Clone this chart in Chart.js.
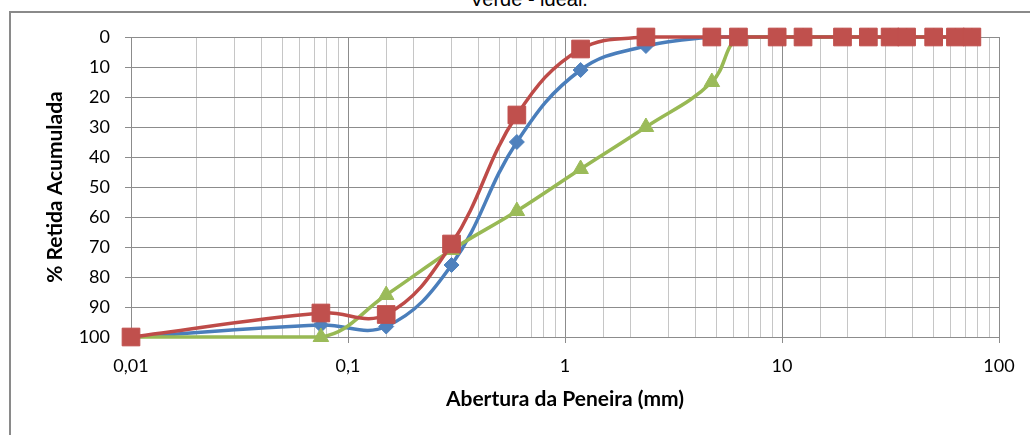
<!DOCTYPE html>
<html>
<head>
<meta charset="utf-8">
<script src="https://cdn.jsdelivr.net/npm/chart.js@4/dist/chart.umd.min.js"></script>
<style>
  html, body { margin: 0; padding: 0; background: #fff; overflow: hidden; }
  #wrap { position: relative; width: 1030px; height: 435px; overflow: hidden; }
  #frame { position: absolute; left: 9px; top: 11px; width: 1100px; height: 500px; border: 2px solid #8a8a8a; box-sizing: border-box; }
  #title { position: absolute; left: 529px; top: -12px; transform: translateX(-50%); font-family: "Liberation Sans", Arial, sans-serif; font-size: 20px; line-height: 23px; color: #000; white-space: nowrap; }
  #c { position: absolute; left: 0; top: 0; }
</style>
</head>
<body>
<div id="wrap">
  <div id="frame"></div>
  <div id="title">Verde - ideal.</div>
  <canvas id="c" width="1030" height="435"></canvas>
</div>
<script>
// Sieve openings (mm)
const sieves = [0.01, 0.075, 0.15, 0.3, 0.6, 1.18, 2.36, 4.75, 6.3, 9.5, 12.5, 19, 25, 31.5, 37.5, 50, 63, 75];
// % retained accumulated
const blueValues  = [100, 96, 96.5, 76, 35, 11, 3, 0, 0, 0, 0, 0, 0, 0, 0, 0, 0, 0];
const redValues   = [100, 92, 92.5, 69, 26, 4, 0, 0, 0, 0, 0, 0, 0, 0, 0, 0, 0, 0];
const greenValues = [100, 100, 86, 71, 58, 44, 30, 15, 0, 0, 0, 0, 0, 0, 0, 0, 0, 0];
const xTickLabels = { 0.01: '0,01', 0.1: '0,1', 1: '1', 10: '10', 100: '100' };
const yTickLabels = [0, 10, 20, 30, 40, 50, 60, 70, 80, 90, 100];

const pts = vals => sieves.map((s, i) => ({ x: s, y: vals[i] }));
const isPow10 = v => Math.abs(Math.log10(v) - Math.round(Math.log10(v))) < 1e-6;

const tickFont = { family: 'Lato, "Open Sans", sans-serif', size: 18 };
const titleFont = { family: 'Lato, "Open Sans", sans-serif', size: 21, weight: 'bold' };

new Chart(document.getElementById('c'), {
  type: 'line',
  data: {
    datasets: [
      {
        label: 'Azul', data: pts(blueValues), order: 2,
        borderColor: '#4A7EBB', backgroundColor: '#4F81BD', borderWidth: 3.5,
        pointStyle: 'rectRot', pointRadius: 7.5, pointBorderColor: '#4F81BD', pointBorderWidth: 1,
        tension: 0.4, clip: false
      },
      {
        label: 'Verde', data: pts(greenValues), order: 1,
        borderColor: '#98B954', backgroundColor: '#9BBB59', borderWidth: 3.5,
        pointStyle: 'triangle', pointRadius: 9, pointBorderColor: '#9BBB59', pointBorderWidth: 1,
        tension: 0.4, clip: false
      },
      {
        label: 'Vermelho', data: pts(redValues), order: 0,
        borderColor: '#BE4B48', backgroundColor: '#C0504D', borderWidth: 3.5,
        pointStyle: 'rect', pointRadius: 12.5, pointBorderColor: '#C0504D', pointBorderWidth: 1,
        tension: 0.4, clip: false
      }
    ]
  },
  options: {
    responsive: false,
    animation: false,
    events: [],
    layout: { padding: { left: 0, top: 37, right: 31, bottom: 0 } },
    plugins: { legend: { display: false }, title: { display: false }, tooltip: { enabled: false } },
    scales: {
      x: {
        type: 'logarithmic', min: 0.01, max: 100,
        afterFit: s => { s.height = 98; },
        ticks: {
          autoSkip: false, maxRotation: 0, minRotation: 0, padding: 12,
          color: '#000', font: tickFont,
          callback: v => (isPow10(v) ? (xTickLabels[Math.pow(10, Math.round(Math.log10(v)))] || '') : '')
        },
        grid: {
          color: c => (c.tick && isPow10(c.tick.value)) ? '#8c8c8c' : '#c6c6c6',
          tickColor: c => (c.tick && isPow10(c.tick.value)) ? '#8c8c8c' : 'rgba(0,0,0,0)',
          tickLength: 6, lineWidth: 1
        },
        border: { color: '#8c8c8c', width: 1 },
        title: {
          display: true, text: 'Abertura da Peneira (mm)', color: '#000',
          font: titleFont,
          padding: { top: 0, bottom: 23 }
        }
      },
      y: {
        type: 'linear', min: 0, max: 100, reverse: true,
        afterFit: s => { s.width = 131; },
        ticks: {
          stepSize: 5, padding: 15, color: '#000', font: tickFont,
          callback: v => (yTickLabels.includes(v) ? String(v) : '')
        },
        grid: {
          color: c => (c.tick && c.tick.value % 10 === 0) ? '#8c8c8c' : '#c6c6c6',
          tickColor: c => (c.tick && c.tick.value % 10 === 0) ? '#8c8c8c' : 'rgba(0,0,0,0)',
          tickLength: 6, lineWidth: 1
        },
        border: { color: '#8c8c8c', width: 1 },
        title: {
          display: true, text: '% Retida Acumulada', color: '#000',
          font: titleFont,
          padding: { top: 43, bottom: 0 }
        }
      }
    }
  }
});
</script>
</body>
</html>
